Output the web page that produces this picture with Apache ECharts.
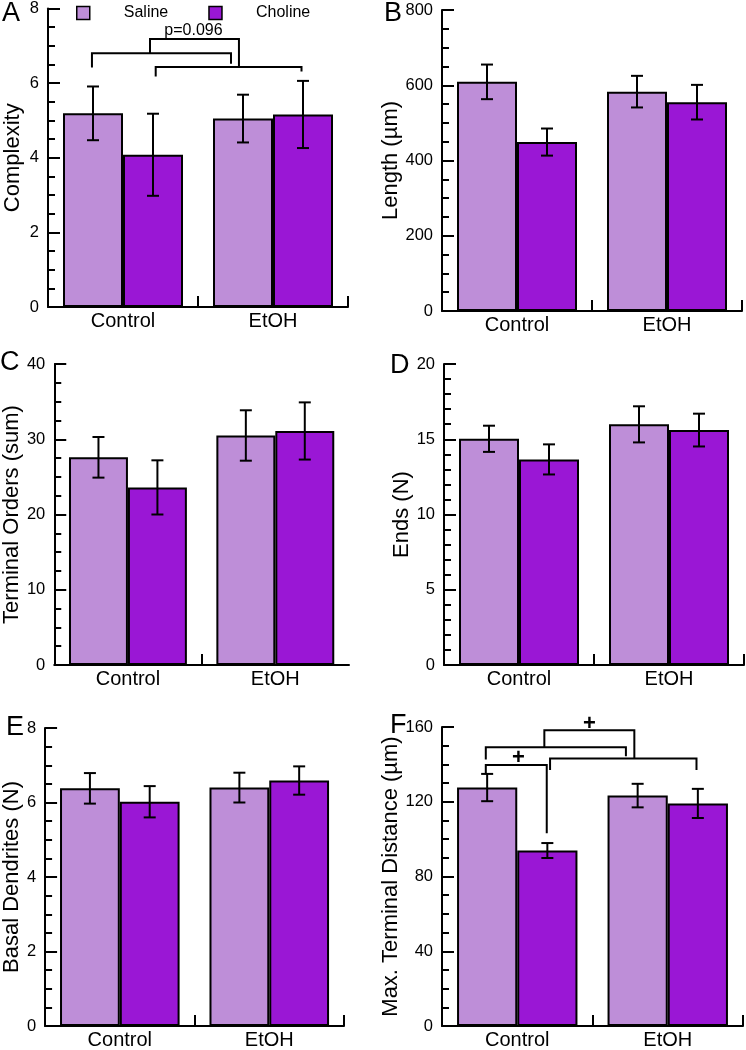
<!DOCTYPE html>
<html>
<head>
<meta charset="utf-8">
<script src="https://cdn.jsdelivr.net/npm/echarts@6/dist/echarts.min.js"></script>
<style>
  html, body { margin: 0; padding: 0; background: #fff; }
  #chart { width: 746px; height: 1050px; }
</style>
</head>
<body>
<div id="chart"></div>
<script>
// ---------- data ----------
const categories = ['Control', 'EtOH'];
const groups = ['Saline', 'Choline'];

const complexitySaline = [5.19, 5.05];
const complexitySalineErr = [0.72, 0.64];
const complexityCholine = [4.08, 5.16];
const complexityCholineErr = [1.10, 0.90];

const lengthSaline = [609, 583];
const lengthSalineErr = [46, 42];
const lengthCholine = [449, 555];
const lengthCholineErr = [36, 46];

const terminalSaline = [27.6, 30.5];
const terminalSalineErr = [2.7, 3.35];
const terminalCholine = [23.6, 31.1];
const terminalCholineErr = [3.6, 3.8];

const endsSaline = [15.03, 15.99];
const endsSalineErr = [0.87, 1.2];
const endsCholine = [13.66, 15.61];
const endsCholineErr = [1.0, 1.09];

const basalSaline = [6.38, 6.40];
const basalSalineErr = [0.41, 0.40];
const basalCholine = [6.02, 6.59];
const basalCholineErr = [0.42, 0.38];

const maxDistSaline = [127.6, 123.3];
const maxDistSalineErr = [7.3, 6.3];
const maxDistCholine = [93.9, 119.1];
const maxDistCholineErr = [4.0, 7.8];

// y tick labels
const yTicksA = [0, 2, 4, 6, 8];
const yTicksB = [0, 200, 400, 600, 800];
const yTicksC = [0, 10, 20, 30, 40];
const yTicksD = [0, 5, 10, 15, 20];
const yTicksE = [0, 2, 4, 6, 8];
const yTicksF = [0, 40, 80, 120, 160];

// significance brackets (x in category-band units 0..2, y in data units)
const bracketsA = [
  [[0.293, 6.42], [0.293, 6.80], [1.22, 6.80], [1.22, 6.52]],
  [[0.718, 6.18], [0.718, 6.43], [1.69, 6.43], [1.69, 6.31]],
  [[0.68, 6.80], [0.68, 7.18], [1.273, 7.18], [1.273, 6.43]]
];
const notesA = [['p=0.096', 0.97, 7.40]];

const bracketsF = [
  [[0.291, 134.7], [0.291, 139.6], [0.696, 139.6], [0.696, 103.1]],
  [[0.291, 142.6], [0.291, 149.2], [1.222, 149.2], [1.222, 144.4]],
  [[0.718, 137.0], [0.718, 143.2], [1.691, 143.2], [1.691, 137.0]],
  [[0.68, 149.2], [0.68, 158.2], [1.278, 158.2], [1.278, 143.2]]
];
const notesF = [['+', 0.507, 143.5], ['+', 0.98, 161.8]];

// ---------- layout / style ----------
const FONT = 'Liberation Sans, Arial, Helvetica, sans-serif';
const colors = { Saline: '#BE8ED8', Choline: '#9A17D5' };

const panels = [
  { letter: 'A', name: 'Complexity', ticks: yTicksA, minor: 4, saline: complexitySaline, salineErr: complexitySalineErr, choline: complexityCholine, cholineErr: complexityCholineErr,
    grid: { left: 48, top: 7, width: 300, height: 300 }, nameGap: 24, brackets: bracketsA, notes: notesA, noteFont: { size: 16, weight: 'normal' },
    letterPos: [2, 0] },
  { letter: 'B', name: 'Length (\u00b5m)', ticks: yTicksB, minor: 4, saline: lengthSaline, salineErr: lengthSalineErr, choline: lengthCholine, cholineErr: lengthCholineErr,
    grid: { left: 442, top: 10, width: 300, height: 301 }, nameGap: 31, letterPos: [384, 0] },
  { letter: 'C', name: 'Terminal Orders (sum)', ticks: yTicksC, minor: 4, saline: terminalSaline, salineErr: terminalSalineErr, choline: terminalCholine, cholineErr: terminalCholineErr,
    grid: { left: 48, top: 364, width: 301, height: 301 }, nameGap: 28, letterPos: [0, 349] },
  { letter: 'D', name: 'Ends (N)', ticks: yTicksD, minor: 5, saline: endsSaline, salineErr: endsSalineErr, choline: endsCholine, cholineErr: endsCholineErr,
    grid: { left: 444, top: 364, width: 300, height: 301 }, nameGap: 25, letterPos: [390, 352] },
  { letter: 'E', name: 'Basal Dendrites (N)', ticks: yTicksE, minor: 4, saline: basalSaline, salineErr: basalSalineErr, choline: basalCholine, cholineErr: basalCholineErr,
    grid: { left: 43, top: 728, width: 301, height: 301 }, nameGap: 17, letterPos: [6, 714] },
  { letter: 'F', name: 'Max. Terminal Distance (\u00b5m)', ticks: yTicksF, minor: 4, saline: maxDistSaline, salineErr: maxDistSalineErr, choline: maxDistCholine, cholineErr: maxDistCholineErr,
    grid: { left: 442, top: 727, width: 301, height: 301 }, nameGap: 31, brackets: bracketsF, notes: notesF, noteFont: { size: 22, weight: 'bold' },
    letterPos: [390, 712] }
];

const grids = [], xAxes = [], yAxes = [], series = [], graphics = [];

function errRender(sign) {
  return function (params, api) {
    const ci = api.value(0), m = api.value(1), e = api.value(2);
    const base = api.coord([ci, m]);
    const bw = api.size([1, 0])[0];
    const x = base[0] + sign * bw * 0.2;
    const yt = api.coord([ci, m + e])[1];
    const yb = api.coord([ci, m - e])[1];
    const cap = 6;
    const st = { stroke: '#000', lineWidth: 2 };
    return {
      type: 'group',
      children: [
        { type: 'line', shape: { x1: x, y1: yt, x2: x, y2: yb }, style: st },
        { type: 'line', shape: { x1: x - cap, y1: yt, x2: x + cap, y2: yt }, style: st },
        { type: 'line', shape: { x1: x - cap, y1: yb, x2: x + cap, y2: yb }, style: st }
      ]
    };
  };
}

panels.forEach((p, i) => {
  grids.push(Object.assign({ containLabel: false }, p.grid));
  const catAxis = xAxes.length;
  xAxes.push({
    type: 'category', gridIndex: i, data: categories,
    axisLine: { lineStyle: { color: '#000', width: 2 } },
    axisTick: { show: true, inside: true, length: 11, alignWithLabel: false, interval: 0, lineStyle: { color: '#000', width: 2 } },
    axisLabel: { color: '#000', fontSize: 20, fontFamily: FONT, margin: 4, interval: 0 },
    splitLine: { show: false }
  });
  const valAxis = xAxes.length;
  xAxes.push({ type: 'value', gridIndex: i, min: 0, max: 2, show: false });
  const t = p.ticks;
  yAxes.push({
    type: 'value', gridIndex: i, min: t[0], max: t[t.length - 1], interval: t[1] - t[0],
    name: p.name, nameLocation: 'middle', nameGap: p.nameGap,
    nameTextStyle: { color: '#000', fontSize: 22, fontFamily: FONT },
    axisLine: { show: true, lineStyle: { color: '#000', width: 2 } },
    axisTick: { show: true, inside: true, length: 12, lineStyle: { color: '#000', width: 2 } },
    minorTick: { show: true, splitNumber: p.minor, length: 7, lineStyle: { color: '#000', width: 2 } },
    axisLabel: { color: '#000', fontSize: 16.5, fontFamily: FONT, margin: 9 },
    splitLine: { show: false }
  });

  [['Saline', p.saline, p.salineErr, -1], ['Choline', p.choline, p.cholineErr, 1]].forEach(([g, vals, errs, sign]) => {
    series.push({
      type: 'bar', name: g, xAxisIndex: catAxis, yAxisIndex: i,
      data: vals, barGap: '0%', barCategoryGap: '20%',
      itemStyle: { color: colors[g], borderColor: '#000', borderWidth: 2 },
      emphasis: { disabled: true }, z: 2
    });
  });
  [['Saline', p.saline, p.salineErr, -1], ['Choline', p.choline, p.cholineErr, 1]].forEach(([g, vals, errs, sign]) => {
    series.push({
      type: 'custom', name: g + ' SEM', xAxisIndex: catAxis, yAxisIndex: i,
      data: vals.map((v, k) => [k, v, errs[k]]),
      encode: { x: 0, y: 1 },
      renderItem: errRender(sign), z: 5, silent: true
    });
  });

  if (p.brackets) {
    const br = p.brackets;
    series.push({
      type: 'custom', name: 'brackets' + p.letter, xAxisIndex: valAxis, yAxisIndex: i,
      data: br.map((b, k) => [b[0][0], b[0][1], k]),
      encode: { x: 0, y: 1 }, clip: false, silent: true, z: 6,
      renderItem: function (params, api) {
        const pts = br[params.dataIndex].map(pt => api.coord(pt));
        return { type: 'polyline', shape: { points: pts }, style: { stroke: '#000', lineWidth: 2, fill: null } };
      }
    });
  }
  if (p.notes) {
    const nt = p.notes, nf = p.noteFont;
    series.push({
      type: 'custom', name: 'notes' + p.letter, xAxisIndex: valAxis, yAxisIndex: i,
      data: nt.map(n => [n[1], n[2]]),
      encode: { x: 0, y: 1 }, clip: false, silent: true, z: 7,
      renderItem: function (params, api) {
        const n = nt[params.dataIndex];
        const c = api.coord([n[1], n[2]]);
        return { type: 'text', x: c[0], y: c[1],
          style: { text: n[0], fill: '#000', fontSize: nf.size, fontWeight: nf.weight, fontFamily: FONT, align: 'center', verticalAlign: 'middle' } };
      }
    });
  }

  graphics.push({ type: 'text', left: p.letterPos[0], top: p.letterPos[1],
    style: { text: p.letter, fill: '#000', fontSize: 27, fontFamily: FONT } });
});

const chart = echarts.init(document.getElementById('chart'), null, { renderer: 'canvas' });
chart.setOption({
  animation: false,
  backgroundColor: '#fff',
  textStyle: { fontFamily: FONT },
  legend: {
    data: groups, left: 76, top: 5, padding: 0,
    icon: 'rect', itemWidth: 13, itemHeight: 13, itemGap: 40,
    itemStyle: { borderColor: '#000', borderWidth: 1.5 },
    textStyle: { color: '#000', fontSize: 16, fontFamily: FONT, padding: [0, 0, 0, 29] },
    selectedMode: false
  },
  grid: grids,
  xAxis: xAxes,
  yAxis: yAxes,
  series: series,
  graphic: graphics
});
</script>
</body>
</html>
